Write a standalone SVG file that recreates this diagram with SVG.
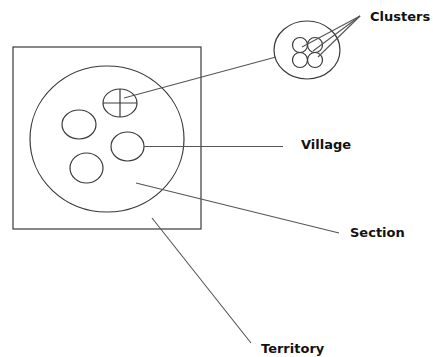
<svg xmlns="http://www.w3.org/2000/svg" width="433" height="357" viewBox="0 0 433 357">
<style>
.shape{fill:none;stroke:#3a3a3a;stroke-width:1.2}
.lead{fill:none;stroke:#555;stroke-width:1.1}
.lbl{font-family:"DejaVu Sans",Verdana,sans-serif;font-weight:bold;font-size:13px;fill:#111}
</style>
<rect width="433" height="357" fill="#fff"/>
<g id="territory"><rect class="shape" x="13" y="47" width="188" height="182"/></g>
<g id="section"><ellipse class="shape" cx="107" cy="139" rx="77" ry="73"/></g>
<g id="village-cluster">
<ellipse class="shape" cx="120" cy="103" rx="17" ry="14"/>
<line class="shape" x1="120" y1="89" x2="120" y2="117"/>
<line class="shape" x1="103" y1="103" x2="137" y2="103"/>
</g>
<g id="village-a"><ellipse class="shape" cx="79" cy="124.5" rx="17" ry="14.5"/></g>
<g id="village-b"><ellipse class="shape" cx="127.5" cy="146.5" rx="16.5" ry="14.5"/></g>
<g id="village-c"><ellipse class="shape" cx="86.5" cy="168" rx="16.5" ry="15"/></g>
<g id="cluster-detail">
<ellipse class="shape" cx="307" cy="50" rx="33" ry="29"/>
<circle class="shape" cx="300" cy="45" r="7.5"/>
<circle class="shape" cx="315" cy="45" r="7.5"/>
<circle class="shape" cx="300" cy="60" r="7.5"/>
<circle class="shape" cx="315" cy="60" r="7.5"/>
</g>
<g id="connectors">
<line class="lead" x1="124" y1="98" x2="276" y2="57"/>
<line class="lead" x1="144" y1="146.5" x2="283" y2="146.5"/>
<line class="lead" x1="136" y1="183" x2="339" y2="233"/>
<line class="lead" x1="152" y1="218" x2="251" y2="343"/>
<line class="lead" x1="360" y1="16" x2="302" y2="47"/>
<line class="lead" x1="360" y1="16" x2="313" y2="51"/>
<line class="lead" x1="360" y1="16" x2="318" y2="57"/>
</g>
<g id="labels">
<text class="lbl" x="370" y="21">Clusters</text>
<text class="lbl" x="301" y="149">Village</text>
<text class="lbl" x="350" y="237">Section</text>
<text class="lbl" x="261" y="353">Territory</text>
</g>
</svg>
